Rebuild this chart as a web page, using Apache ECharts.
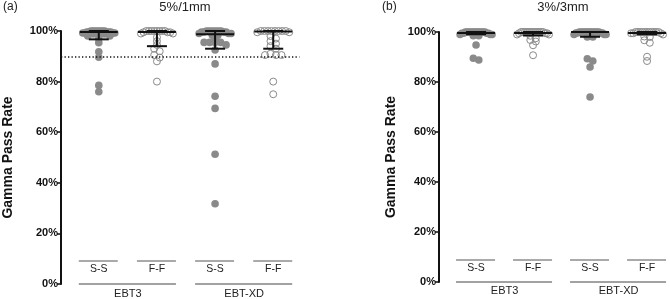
<!DOCTYPE html>
<html><head><meta charset="utf-8">
<script src="https://cdn.jsdelivr.net/npm/echarts@6/dist/echarts.min.js"></script>
<style>html,body{margin:0;padding:0;background:#fff}#c{width:670px;height:299px}</style>
</head><body><div id="c"></div>
<script>
// ---------- data ----------
const categories = ['S-S', 'F-F', 'S-S', 'F-F'];
const groupNames = ['EBT3', 'EBT-XD'];
const groupSpans = [[0, 1], [2, 3]];
const filledCat = [true, false, true, false];
const yTicks = [0, 20, 40, 60, 80, 100];
const panelTitles = ['5%/1mm', '3%/3mm'];
const panelTags = ['(a)', '(b)'];
const yAxisName = 'Gamma Pass Rate';
const threshold = 90;

// panel (a) 5%/1mm
const a_EBT3_SS = [100,100,100,100,100,100,100,100, 99.6,99.6,99.6,99.6,99.6, 99.2,99.2,99.2,99.2, 98.8,98.8,98.8, 98,98, 97, 95.4, 91.8, 89.6, 78.5, 76];
const a_EBT3_FF = [100,100,100,100,100,100,100,100, 99.5,99.5,99.5, 99,99, 97.5, 96, 94.5, 93, 92, 90.5, 89.5, 88, 80];
const a_XD_SS   = [100,100,100,100,100,100,100, 99.6,99.6,99.6,99.6, 99,99,99, 98.3,98.3, 97, 95.5,95.5,95.5,95.5, 94.5, 92.5, 87, 74.2, 69.4, 51.3, 31.7];
const a_XD_FF   = [100,100,100,100,100,100,100,100, 99.5,99.5, 98, 97, 96, 95, 94, 93, 91, 90.5,90.5,90.5, 80, 75];
const a_median = [99.6, 99.6, 98.7, 99.8];
const a_q1     = [96.7, 94.0, 93.0, 93.0];
const a_q3     = [100, 100, 100, 100];

// panel (b) 3%/3mm
const b_EBT3_SS = [100,100,100,100,100,100,100,100,100,100,100,100, 99.5,99.5,99.5,99.5, 99,99,99, 98.5,98.5, 94.8, 89.5, 88.8];
const b_EBT3_FF = [100,100,100,100,100,100,100,100,100,100,100,100, 99.5,99.5,99.5, 99,99, 98.5, 97.5, 96.8, 96.2, 94.7, 90.7];
const b_XD_SS   = [100,100,100,100,100,100,100,100,100,100,100,100, 99.6,99.6,99.6,99.6, 99,99,99, 98,98, 89.3, 88.4, 86, 74];
const b_XD_FF   = [100,100,100,100,100,100,100,100,100,100,100, 99.5,99.5,99.5, 99, 98.2, 98, 96.7, 95.7, 90.1, 88.4];
const b_median = [99.6, 99.6, 100, 99.6];
const b_q1     = [99.1, 98.6, 98.1, 99.1];
const b_q3     = [100, 100, 100, 100];

const panelValues = [[a_EBT3_SS, a_EBT3_FF, a_XD_SS, a_XD_FF], [b_EBT3_SS, b_EBT3_FF, b_XD_SS, b_XD_FF]];
const panelStats = [[a_median, a_q1, a_q3], [b_median, b_q1, b_q3]];

// ---------- layout / style ----------
const FONT = '"Liberation Sans", Arial, sans-serif';
const GRAY = '#8a8a8a';
const panels = [
  { grid: { left: 60, top: 31, width: 239.4, height: 253 }, xmin: -0.65, xmax: 3.45, nameGap: 46, underOff: 23, labOff: 15, grpLabOff: 10 },
  { grid: { left: 439, top: 32, width: 228, height: 250 }, xmin: -0.65, xmax: 3.35, nameGap: 41, underOff: 22, labOff: 14, grpLabOff: 9 }
];

function swarm(ys, binH, maxHalf, D) {
  const idx = ys.map((y, i) => i).sort((a, b) => ys[a] - ys[b]);
  const rows = []; let cur = null;
  idx.forEach(i => {
    if (!cur || ys[i] - cur.y0 > binH) { cur = { y0: ys[i], items: [] }; rows.push(cur); }
    cur.items.push(i);
  });
  const xs = new Array(ys.length).fill(0);
  rows.forEach(r => {
    const n = r.items.length; if (n < 2) return;
    const sp = Math.min(D, 2 * maxHalf / (n - 1));
    const pos = [];
    for (let j = 0; j < n; j++) pos.push((j - (n - 1) / 2) * sp);
    pos.sort((a, b) => Math.abs(a) - Math.abs(b) || a - b);
    r.items.forEach((i, j) => { xs[i] = pos[j]; });
  });
  return xs;
}

const grids = [], xAxes = [], yAxes = [], series = [];
panels.forEach((P, p) => {
  grids.push(P.grid);
  xAxes.push({ type: 'value', gridIndex: p, min: P.xmin, max: P.xmax, show: false });
  yAxes.push({
    type: 'value', gridIndex: p, min: yTicks[0], max: yTicks[yTicks.length - 1], interval: 20,
    axisLine: { show: true, onZero: false, lineStyle: { color: '#111', width: 2 } },
    axisTick: { show: true, length: 4, lineStyle: { color: '#111', width: 1.5 } },
    axisLabel: { formatter: '{value}%', fontWeight: 'bold', fontSize: 11, color: '#111', margin: 3, fontFamily: FONT },
    splitLine: { show: false },
    name: yAxisName, nameLocation: 'middle', nameGap: P.nameGap,
    nameTextStyle: { fontWeight: 'bold', fontSize: 14, color: '#111', fontFamily: FONT }
  });

  // points (beeswarm)
  series.push({
    type: 'custom', xAxisIndex: p, yAxisIndex: p, clip: false, z: 2,
    data: categories.map((c, k) => [k]),
    renderItem: function (params, api) {
      const k = api.value(0);
      const vals = panelValues[p][k];
      const cx = api.coord([k, 0])[0];
      const ys = vals.map(v => api.coord([k, v])[1]);
      const xs = swarm(ys, 2.6, 16, 5.5);
      const children = vals.map((v, i) => ({
        type: 'circle',
        shape: { cx: cx + xs[i], cy: ys[i], r: filledCat[k] ? 3.8 : 3.5 },
        style: filledCat[k] ? { fill: GRAY, stroke: null } : { fill: 'none', stroke: GRAY, lineWidth: 1 }
      }));
      return { type: 'group', children };
    }
  });

  // median + IQR bars
  const st = panelStats[p];
  series.push({
    type: 'custom', xAxisIndex: p, yAxisIndex: p, clip: false, z: 5,
    data: categories.map((c, k) => [k, st[0][k], st[1][k], st[2][k]]),
    renderItem: function (params, api) {
      const k = api.value(0);
      const m = api.coord([k, api.value(1)]);
      const lo = api.coord([k, api.value(2)]);
      const hi = api.coord([k, api.value(3)]);
      const s = { stroke: '#111', lineWidth: 2 };
      return { type: 'group', children: [
        { type: 'line', shape: { x1: m[0], y1: hi[1], x2: m[0], y2: lo[1] }, style: s },
        { type: 'line', shape: { x1: m[0] - 19, y1: m[1], x2: m[0] + 19, y2: m[1] }, style: s },
        { type: 'line', shape: { x1: m[0] - 10, y1: lo[1], x2: m[0] + 10, y2: lo[1] }, style: s },
        { type: 'line', shape: { x1: m[0] - 10, y1: hi[1], x2: m[0] + 10, y2: hi[1] }, style: s }
      ]};
    },
    markLine: p === 0 ? {
      silent: true, symbol: 'none', label: { show: false },
      lineStyle: { color: '#111', type: [1.3, 2.2], width: 1.5 },
      data: [{ yAxis: threshold }]
    } : undefined
  });

  // category labels with underline
  series.push({
    type: 'custom', xAxisIndex: p, yAxisIndex: p, clip: false, z: 3,
    data: categories.map((c, k) => [k]),
    renderItem: function (params, api) {
      const k = api.value(0);
      const b = api.coord([k, 0]);
      return { type: 'group', children: [
        { type: 'line', shape: { x1: b[0] - 20, y1: b[1] - P.underOff, x2: b[0] + 19, y2: b[1] - P.underOff }, style: { stroke: '#555', lineWidth: 1 } },
        { type: 'text', x: b[0], y: b[1] - P.labOff, style: { text: categories[k], textAlign: 'center', textVerticalAlign: 'middle', fontSize: 10.5, fontFamily: FONT, fill: '#222' } }
      ]};
    }
  });

  // group labels with line
  series.push({
    type: 'custom', xAxisIndex: p, yAxisIndex: p, clip: false, z: 3,
    data: groupSpans.map((g, i) => [g[0], g[1], i]),
    renderItem: function (params, api) {
      const a = api.coord([api.value(0), 0]);
      const b = api.coord([api.value(1), 0]);
      const i = api.value(2);
      return { type: 'group', children: [
        { type: 'line', shape: { x1: a[0] - 20, y1: a[1], x2: b[0] + 19, y2: b[1] }, style: { stroke: '#444', lineWidth: 1 } },
        { type: 'text', x: (a[0] + b[0]) / 2, y: a[1] + P.grpLabOff, style: { text: groupNames[i], textAlign: 'center', textVerticalAlign: 'middle', fontSize: 11, fontFamily: FONT, fill: '#222' } }
      ]};
    }
  });
});

const chart = echarts.init(document.getElementById('c'), null, { renderer: 'canvas' });
chart.setOption({
  animation: false,
  backgroundColor: '#fff',
  grid: grids, xAxis: xAxes, yAxis: yAxes, series: series,
  graphic: [
    { type: 'text', x: 3, y: 7, style: { text: panelTags[0], fontSize: 12, fontFamily: FONT, fill: '#222', textVerticalAlign: 'middle' } },
    { type: 'text', x: 382, y: 7, style: { text: panelTags[1], fontSize: 12, fontFamily: FONT, fill: '#222', textVerticalAlign: 'middle' } },
    { type: 'text', x: 185, y: 7, style: { text: panelTitles[0], fontSize: 13, fontFamily: FONT, fill: '#222', textAlign: 'center', textVerticalAlign: 'middle' } },
    { type: 'text', x: 563, y: 7, style: { text: panelTitles[1], fontSize: 13, fontFamily: FONT, fill: '#222', textAlign: 'center', textVerticalAlign: 'middle' } }
  ]
});
</script></body></html>
